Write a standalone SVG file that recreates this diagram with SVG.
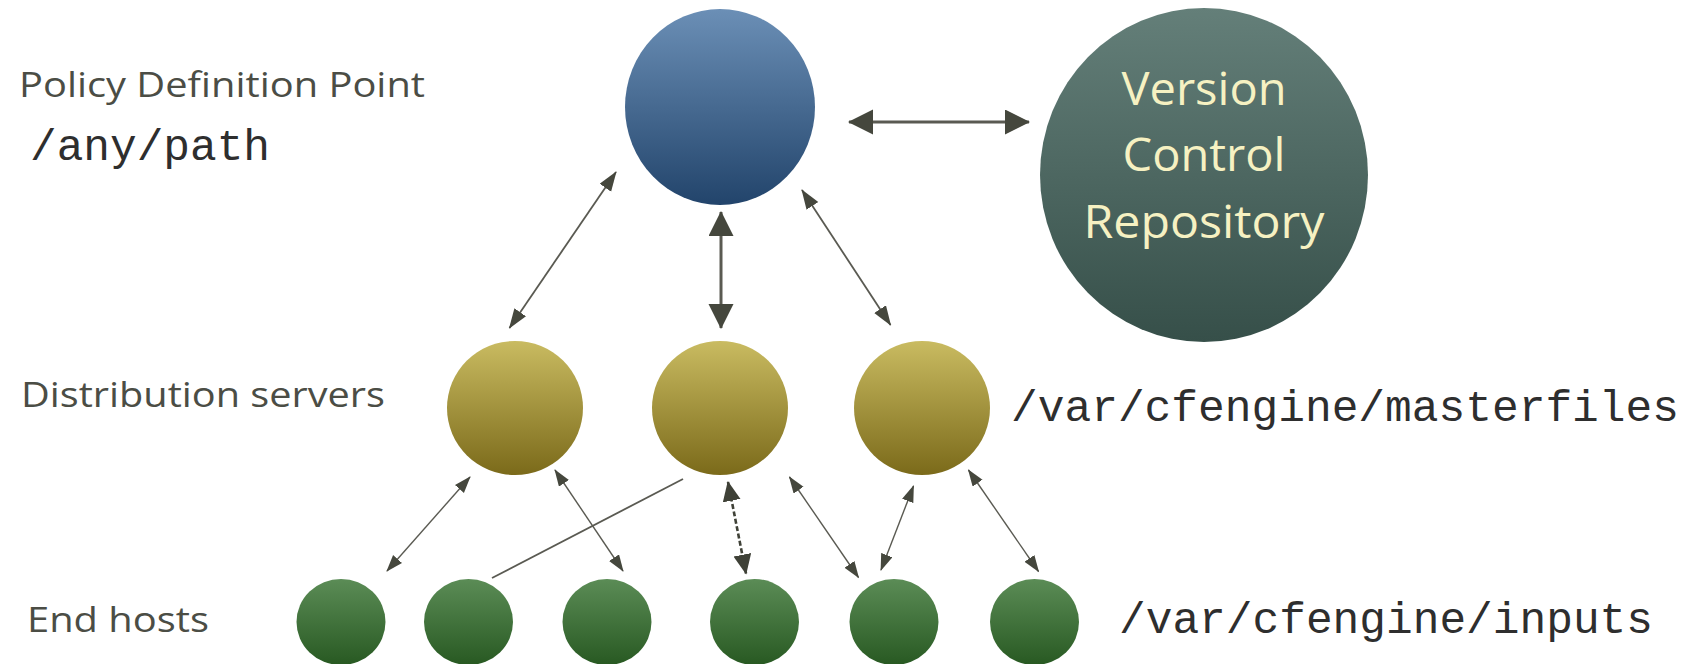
<svg xmlns="http://www.w3.org/2000/svg" width="1700" height="664" viewBox="0 0 1700 664">
  <defs>
    <linearGradient id="gBlue" x1="0" y1="0" x2="0" y2="1">
      <stop offset="0" stop-color="#6b8fb6"/>
      <stop offset="1" stop-color="#22446b"/>
    </linearGradient>
    <linearGradient id="gSlate" x1="0" y1="0" x2="0" y2="1">
      <stop offset="0" stop-color="#647f79"/>
      <stop offset="1" stop-color="#364f49"/>
    </linearGradient>
    <linearGradient id="gOlive" x1="0" y1="0" x2="0" y2="1">
      <stop offset="0" stop-color="#c9bb61"/>
      <stop offset="1" stop-color="#7b6a1a"/>
    </linearGradient>
    <linearGradient id="gGreen" x1="0" y1="0" x2="0" y2="1">
      <stop offset="0" stop-color="#5b8c56"/>
      <stop offset="1" stop-color="#285922"/>
    </linearGradient>
    <marker id="mBig" markerUnits="userSpaceOnUse" markerWidth="26" markerHeight="26" refX="24" refY="12.5" orient="auto-start-reverse">
      <path d="M0,0 L25,12.5 L0,25 z" fill="#45473d"/>
    </marker>
    <marker id="mMed" markerUnits="userSpaceOnUse" markerWidth="22" markerHeight="16" refX="19" refY="7" orient="auto-start-reverse">
      <path d="M0,0 L20,7 L0,14 z" fill="#45473d"/>
    </marker>
    <marker id="mDash" markerUnits="userSpaceOnUse" markerWidth="22" markerHeight="20" refX="19" refY="9" orient="auto-start-reverse">
      <path d="M0,0 L20,9 L0,18 z" fill="#3f4137"/>
    </marker>
    <marker id="mSmall" markerUnits="userSpaceOnUse" markerWidth="19" markerHeight="13" refX="16" refY="6" orient="auto-start-reverse">
      <path d="M0,0 L17,6 L0,12 z" fill="#45473d"/>
    </marker>
  </defs>
  <style>
    .lbl { font-family: "Open Sans", Lato, "Liberation Sans", sans-serif; font-size: 34px; fill: #4b4d45; }
    .mono { font-family: "Liberation Mono", "DejaVu Sans Mono", monospace; font-size: 44.5px; fill: #2e2e2e; }
    .vcr { font-family: "Open Sans", Lato, "Liberation Sans", sans-serif; font-size: 46px; fill: #f6f1c2; text-anchor: middle; }
    .conn { fill: none; stroke: #5a5a52; }
    .big { stroke-width: 3; marker-start: url(#mBig); marker-end: url(#mBig); }
    .med { stroke-width: 1.8; marker-start: url(#mMed); marker-end: url(#mMed); }
    .dash { stroke-width: 2.6; stroke: #3f4137; stroke-dasharray: 5 2.5; marker-start: url(#mDash); marker-end: url(#mDash); }
    .small { stroke-width: 1.4; marker-start: url(#mSmall); marker-end: url(#mSmall); }
    .plain { stroke-width: 1.8; }
  </style>

  <g id="labels">
    <text class="lbl" x="19" y="97" textLength="406" lengthAdjust="spacingAndGlyphs">Policy Definition Point</text>
    <text class="mono" x="30" y="160" textLength="240" lengthAdjust="spacingAndGlyphs">/any/path</text>
    <text class="lbl" x="21" y="407" textLength="364" lengthAdjust="spacingAndGlyphs">Distribution servers</text>
    <text class="mono" x="1011" y="421" textLength="668" lengthAdjust="spacingAndGlyphs">/var/cfengine/masterfiles</text>
    <text class="lbl" x="27" y="632" textLength="182" lengthAdjust="spacingAndGlyphs">End hosts</text>
    <text class="mono" x="1119" y="633" textLength="534" lengthAdjust="spacingAndGlyphs">/var/cfengine/inputs</text>
  </g>

  <g id="connectors">
    <line class="conn big" x1="849" y1="122" x2="1029" y2="122"/>
    <line class="conn med" x1="616" y1="172" x2="509.5" y2="328"/>
    <line class="conn big" x1="721" y1="212" x2="721" y2="328"/>
    <line class="conn med" x1="802" y1="190" x2="890.5" y2="325"/>
    <line class="conn small" x1="470" y1="477" x2="387" y2="571"/>
    <line class="conn small" x1="555" y1="470" x2="623" y2="571"/>
    <line class="conn plain" x1="683" y1="479" x2="492" y2="578"/>
    <line class="conn dash" x1="728" y1="482" x2="746" y2="573.5"/>
    <line class="conn small" x1="789.5" y1="477" x2="858.5" y2="577.5"/>
    <line class="conn small" x1="913.5" y1="486" x2="881" y2="570"/>
    <line class="conn small" x1="968.5" y1="470" x2="1038.5" y2="571.5"/>
  </g>

  <g id="policy-definition-point">
    <ellipse cx="720" cy="107" rx="95" ry="98" fill="url(#gBlue)"/>
  </g>
  <g id="version-control-repository">
    <ellipse cx="1204" cy="175" rx="164" ry="167" fill="url(#gSlate)"/>
    <text class="vcr" x="1204" y="105" textLength="165" lengthAdjust="spacingAndGlyphs">Version</text>
    <text class="vcr" x="1204" y="171" textLength="163" lengthAdjust="spacingAndGlyphs">Control</text>
    <text class="vcr" x="1204" y="238" textLength="241" lengthAdjust="spacingAndGlyphs">Repository</text>
  </g>

  <g id="server-1"><ellipse cx="515" cy="408" rx="68" ry="67" fill="url(#gOlive)"/></g>
  <g id="server-2"><ellipse cx="720" cy="408" rx="68" ry="67" fill="url(#gOlive)"/></g>
  <g id="server-3"><ellipse cx="922" cy="408" rx="68" ry="67" fill="url(#gOlive)"/></g>

  <g id="host-1"><ellipse cx="341" cy="622" rx="44.5" ry="43" fill="url(#gGreen)"/></g>
  <g id="host-2"><ellipse cx="468.5" cy="622" rx="44.5" ry="43" fill="url(#gGreen)"/></g>
  <g id="host-3"><ellipse cx="607" cy="622" rx="44.5" ry="43" fill="url(#gGreen)"/></g>
  <g id="host-4"><ellipse cx="754.5" cy="622" rx="44.5" ry="43" fill="url(#gGreen)"/></g>
  <g id="host-5"><ellipse cx="894" cy="622" rx="44.5" ry="43" fill="url(#gGreen)"/></g>
  <g id="host-6"><ellipse cx="1034.5" cy="622" rx="44.5" ry="43" fill="url(#gGreen)"/></g>
</svg>
